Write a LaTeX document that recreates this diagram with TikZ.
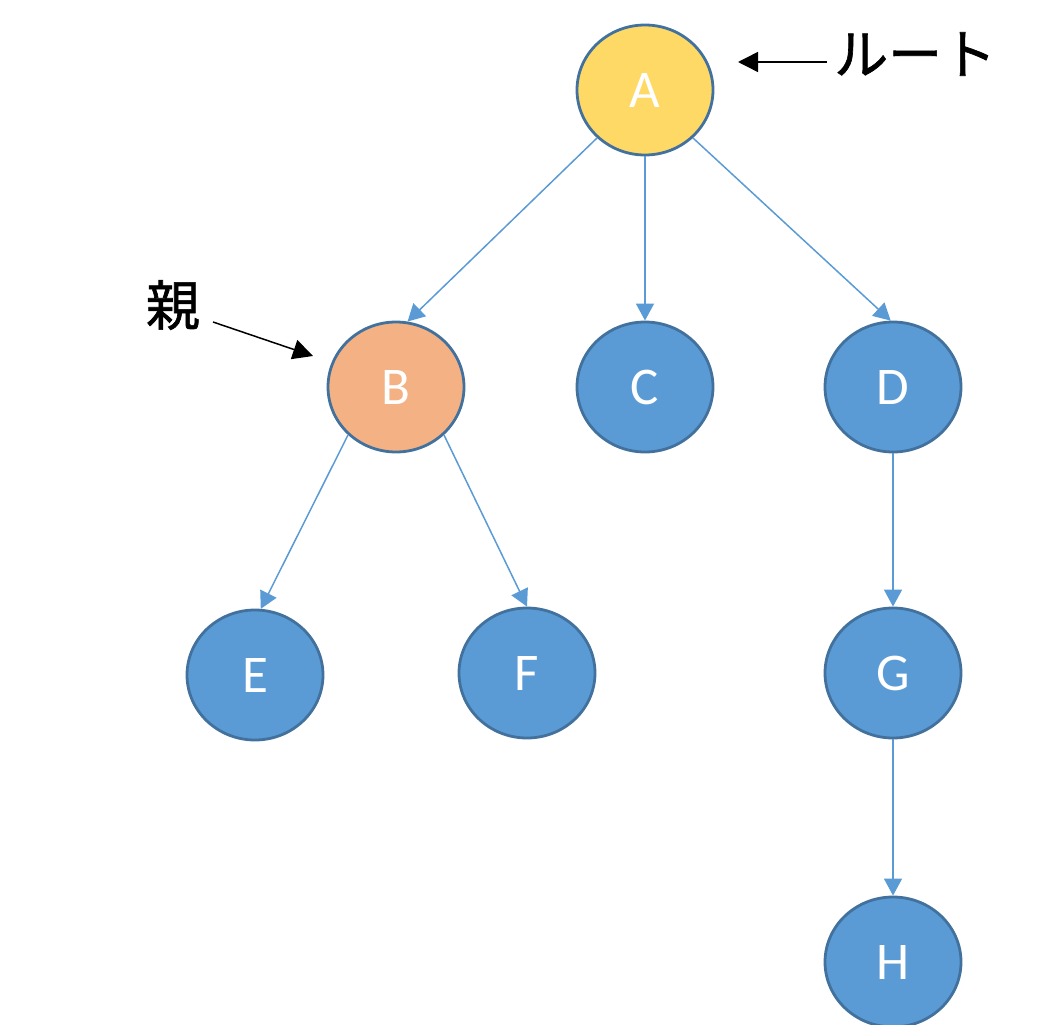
\documentclass[tikz,border=0pt]{standalone}
\usepackage{fontspec}
\setmainfont{Carlito}
\newfontfamily\jpfont[FakeBold=1.2]{Noto Sans CJK JP}
\usetikzlibrary{shapes.geometric,arrows.meta}
\definecolor{nodeblue}{HTML}{5B9BD5}
\definecolor{nodeborder}{HTML}{41719C}
\definecolor{rootyellow}{HTML}{FFD966}
\definecolor{parentorange}{HTML}{F4B183}
\tikzset{
  treenode/.style={ellipse, draw=nodeborder, line width=2.8pt, fill=nodeblue,
    minimum width=136pt, minimum height=130pt, inner sep=0pt,
    text=white, font=\fontsize{53}{53}\selectfont},
  edge/.style={draw=nodeblue, line width=1.5pt, -{Triangle[length=17pt,width=18pt]}},
  callout/.style={draw=black, line width=1.5pt, -{Triangle[length=20pt,width=20pt]}},
  jplabel/.style={font=\jpfont\fontsize{54}{54}\selectfont, inner sep=0pt}
}
\begin{document}
\begin{tikzpicture}[x=1pt,y=-1pt]
\useasboundingbox (0,0) rectangle (1040,1024);
\node[treenode, fill=rootyellow] (A) at (645,90) {A};
\node[treenode, fill=parentorange] (B) at (396,387) {B};
\node[treenode] (C) at (645,387) {C};
\node[treenode] (D) at (893,387) {D};
\node[treenode] (E) at (255,675) {E};
\node[treenode] (F) at (527,673) {F};
\node[treenode] (G) at (893,673) {G};
\node[treenode] (H) at (893,962) {H};

\draw[edge] (A.225) -- (B.80);
\draw[edge] (A.south) -- (C.north);
\draw[edge] (A.-45) -- (D.92);
\draw[edge] (B.225) -- (E.85);
\draw[edge] (B.-45) -- (F.north);
\draw[edge] (D.south) -- (G.north);
\draw[edge] (G.south) -- (H.north);

\node[jplabel, anchor=west] (root) at (834,54) {ルート};
\coordinate (roottip) at (738,62);
\coordinate (rootstart) at (827,62);
\draw[callout] (rootstart) -- (roottip);

\node[jplabel] (parent) at (173,305) {親};
\coordinate (parentstart) at (213,322);
\coordinate (parenttip) at (313,356);
\draw[callout] (parentstart) -- (parenttip);
\end{tikzpicture}
\end{document}
